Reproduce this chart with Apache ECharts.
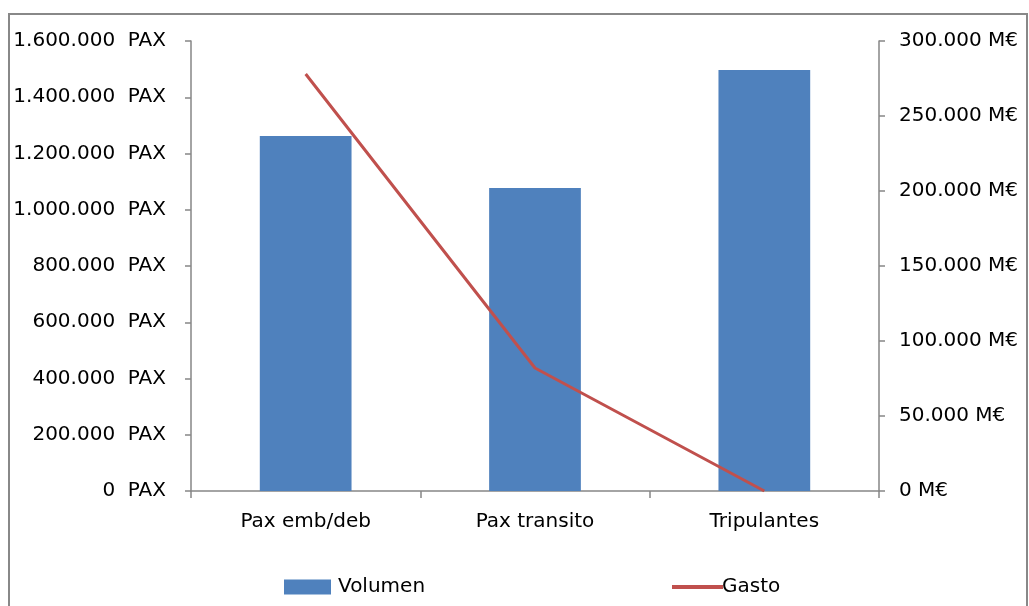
<!DOCTYPE html>
<html>
<head>
<meta charset="utf-8">
<script src="https://cdn.jsdelivr.net/npm/echarts@6/dist/echarts.min.js"></script>
<style>
  html, body { margin: 0; padding: 0; background: #fff; }
  #chart { width: 1029px; height: 606px; }
</style>
</head>
<body>
<div id="chart"></div>
<script>
var categories = ['Pax emb/deb', 'Pax transito', 'Tripulantes'];
var volumen = [1262000, 1077000, 1497000];   // PAX
var gasto = [278000, 82000, 0];              // M€
var paxTicks = { min: 0, max: 1600000, interval: 200000 };
var euroTicks = { min: 0, max: 300000, interval: 50000 };

function miles(v) {
	return String(v).replace(/\B(?=(\d{3})+(?!\d))/g, '.');
}

var axisGrey = '#868686';
var fontName = 'DejaVu Sans';

var myChart = echarts.init(document.getElementById('chart'));
var option = {
	backgroundColor: '#fff',
	animation: false,
	textStyle: { fontFamily: fontName, color: '#000' },
	graphic: [{
		type: 'rect',
		shape: { x: 9, y: 14, width: 1018, height: 610 },
		style: { fill: null, stroke: '#888', lineWidth: 2 },
		silent: true
	}],
	grid: {
		left: 191, right: 150, top: 41, bottom: 115,
		outerBoundsMode: 'none'
	},
	legend: [{
		data: ['Volumen'],
		left: 279, top: 572,
		itemWidth: 47, itemHeight: 15, itemGap: 0,
		icon: 'rect',
		textStyle: { fontFamily: fontName, fontSize: 20, color: '#000', padding: [0, 0, 0, 2] }
	}, {
		data: ['Gasto'],
		left: 667, top: 572,
		itemWidth: 51, itemHeight: 4,
		icon: 'rect',
		textStyle: { fontFamily: fontName, fontSize: 20, color: '#000', padding: [0, 0, 0, -6] }
	}],
	xAxis: {
		type: 'category',
		data: categories,
		axisLine: { lineStyle: { color: axisGrey, width: 1.5 } },
		axisTick: { show: true, length: 7, lineStyle: { color: axisGrey, width: 1.5 } },
		axisLabel: { fontSize: 20, color: '#000', margin: 21 }
	},
	yAxis: [{
		type: 'value',
		min: paxTicks.min, max: paxTicks.max, interval: paxTicks.interval,
		splitLine: { show: false },
		axisLine: { show: true, lineStyle: { color: axisGrey, width: 1.5 } },
		axisTick: { show: true, length: 6, lineStyle: { color: axisGrey, width: 1.5 } },
		axisLabel: {
			fontSize: 20, color: '#000', margin: 25,
			formatter: function (v) { return miles(v) + '  PAX'; }
		}
	}, {
		type: 'value',
		position: 'right',
		min: euroTicks.min, max: euroTicks.max, interval: euroTicks.interval,
		splitLine: { show: false },
		axisLine: { show: true, lineStyle: { color: axisGrey, width: 1.5 } },
		axisTick: { show: true, length: 6, lineStyle: { color: axisGrey, width: 1.5 } },
		axisLabel: {
			fontSize: 20, color: '#000', margin: 20,
			formatter: function (v) { return miles(v) + ' M€'; }
		}
	}],
	series: [{
		name: 'Volumen',
		type: 'bar',
		data: volumen,
		barWidth: '40%',
		itemStyle: { color: '#4f81bd' }
	}, {
		name: 'Gasto',
		type: 'line',
		yAxisIndex: 1,
		data: gasto,
		showSymbol: false,
		symbol: 'none',
		lineStyle: { color: '#c0504d', width: 3 },
		itemStyle: { color: '#c0504d' }
	}]
};
myChart.setOption(option);
</script>
</body>
</html>
